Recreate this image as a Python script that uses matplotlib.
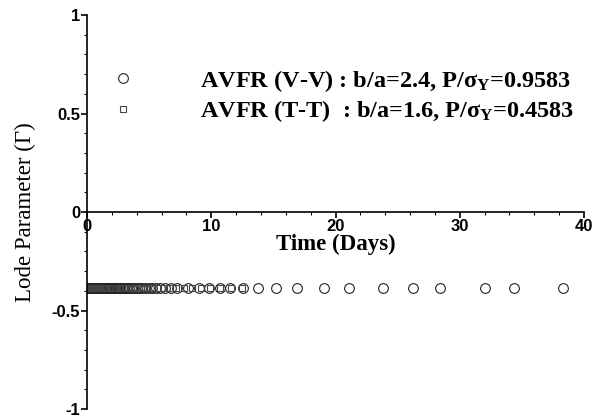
import matplotlib
matplotlib.use("Agg")
import matplotlib.pyplot as plt

# V-V series (circles): time in days, Lode parameter
t_vv = [0.0, 0.02, 0.04, 0.06, 0.08, 0.1, 0.13, 0.16, 0.19, 0.22, 0.25, 0.3, 0.35,
        0.4, 0.45, 0.5, 0.55, 0.6, 0.65, 0.7, 0.75, 0.8, 0.85, 0.9, 0.95, 1.0,
        1.06, 1.12, 1.18, 1.24, 1.3, 1.37, 1.44, 1.51, 1.58, 1.65, 1.73, 1.81,
        1.9, 2.0, 2.1, 2.2, 2.3, 2.42, 2.54, 2.66, 2.8, 2.95, 3.1, 3.25, 3.4,
        3.6, 3.8, 4.0, 4.2, 4.45, 4.7, 4.95, 5.25, 5.55, 5.9, 6.3, 6.75, 7.25,
        8.1, 9.0, 9.8, 10.7, 11.5, 12.55, 13.75, 15.2, 16.9, 19.1, 21.1, 23.8,
        26.2, 28.4, 32.0, 34.4, 38.3]
g_vv = [-0.385] * len(t_vv)

# T-T series (squares)
t_tt = [0.0, 0.03, 0.06, 0.09, 0.12, 0.16, 0.2, 0.25, 0.3, 0.36, 0.42, 0.48,
        0.55, 0.62, 0.7, 0.78, 0.86, 0.95, 1.05, 1.15, 1.26, 1.38, 1.5, 1.63,
        1.77, 1.92, 2.08, 2.25, 2.43, 2.62, 2.82, 3.05, 3.3, 3.55, 3.85, 4.15,
        4.5, 4.85, 5.25, 5.7, 6.15, 6.65, 7.2, 7.8, 8.45, 9.15, 9.9, 10.7,
        11.55, 12.5]
g_tt = [-0.385] * len(t_tt)

lab_vv = r"AVFR (V-V) : b/a=2.4, P/$\mathrm{\sigma_Y}$=0.9583"
lab_tt = r"AVFR (T-T)  : b/a=1.6, P/$\mathrm{\sigma_Y}$=0.4583"

plt.rcParams.update({"mathtext.fontset": "custom",
                     "mathtext.rm": "Liberation Serif:bold",
                     "mathtext.it": "Liberation Serif:bold:italic",
                     "mathtext.bf": "Liberation Serif:bold"})

fig = plt.figure(figsize=(6.03, 4.17), dpi=100)
ax = fig.add_axes([0.1443, 0.019, 0.8242, 0.945])

ax.plot(t_vv, g_vv, ls="none", marker="o", ms=7, mfc="none", mec="#222", mew=0.8,
        label=lab_vv)
ax.plot(t_tt, g_tt, ls="none", marker="s", ms=4.5, mfc="none", mec="#444", mew=0.8,
        label=lab_tt)

ax.set_xlim(0, 40)
ax.set_ylim(-1, 1)
ax.spines["top"].set_visible(False)
ax.spines["right"].set_visible(False)
ax.spines["bottom"].set_position(("data", 0))
for s in ("left", "bottom"):
    ax.spines[s].set_linewidth(1.2)

ax.set_xticks([0, 10, 20, 30, 40])
ax.set_xticks([x * 2 for x in range(21)], minor=True)
ax.set_yticks([-1, -0.5, 0, 0.5, 1])
ax.set_yticklabels(["-1", "-0.5", "0", "0.5", "1"])
ax.set_yticks([y / 10 for y in range(-10, 11)], minor=True)
ax.tick_params(which="major", direction="out", length=4.5, width=1.2, pad=0.5)
ax.tick_params(which="minor", direction="out", length=2.5, width=0.8)
for lbl in ax.get_xticklabels() + ax.get_yticklabels():
    lbl.set_fontfamily("Liberation Sans")
    lbl.set_fontweight("bold")
    lbl.set_fontsize(12)

ax.text(0.5, 0.419, "Time (Days)", transform=ax.transAxes, fontfamily="Liberation Serif",
        fontweight="bold", fontsize=16.5, ha="center", va="center")
ax.set_ylabel("Lode Parameter (Γ)", fontfamily="Liberation Serif", fontsize=16.5, labelpad=11)

leg = ax.legend(loc="upper left", bbox_to_anchor=(0.004, 0.922), frameon=False,
                handlelength=1.0, handletextpad=2.67, labelspacing=0.2,
                prop={"family": "Liberation Serif", "weight": "bold", "size": 17.5})

fig.savefig("out.png", dpi=100, facecolor="white")
